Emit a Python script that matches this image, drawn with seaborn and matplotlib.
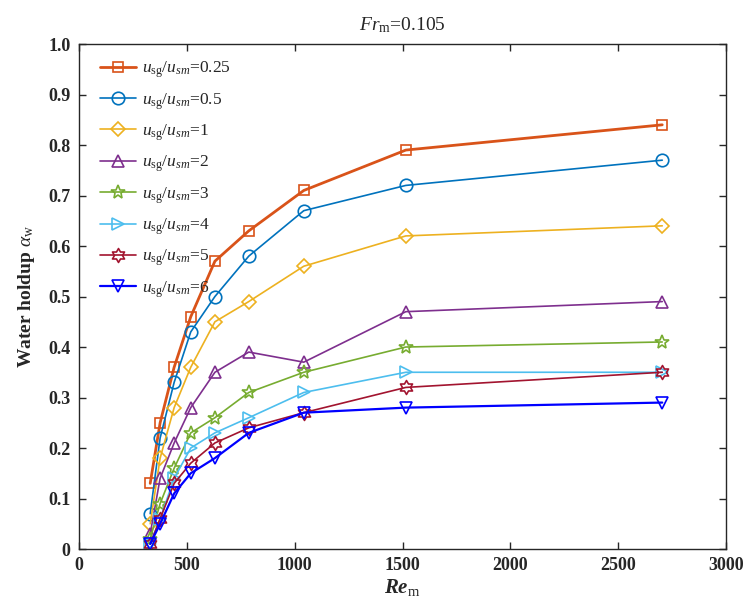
import numpy as np
import pandas as pd
import matplotlib
matplotlib.use("Agg")
import matplotlib.pyplot as plt
from matplotlib.path import Path
import seaborn as sns

re_m = [330, 376, 441, 518, 630, 787, 1042, 1515, 2704]
ratios = ["0.25", "0.5", "1", "2", "3", "4", "5", "6"]
holdup_025 = [0.13, 0.25, 0.36, 0.46, 0.57, 0.63, 0.71, 0.79, 0.84]
holdup_05 = [0.07, 0.22, 0.33, 0.43, 0.50, 0.58, 0.67, 0.72, 0.77]
holdup_1 = [0.05, 0.18, 0.28, 0.36, 0.45, 0.49, 0.56, 0.62, 0.64]
holdup_2 = [0.03, 0.14, 0.21, 0.28, 0.35, 0.39, 0.37, 0.47, 0.49]
holdup_3 = [0.02, 0.09, 0.16, 0.23, 0.26, 0.31, 0.35, 0.40, 0.41]
holdup_4 = [0.01, 0.06, 0.14, 0.20, 0.23, 0.26, 0.31, 0.35, 0.35]
holdup_5 = [0.01, 0.06, 0.13, 0.17, 0.21, 0.24, 0.27, 0.32, 0.35]
holdup_6 = [0.01, 0.05, 0.11, 0.15, 0.18, 0.23, 0.27, 0.28, 0.29]
x_ticks = [0, 500, 1000, 1500, 2000, 2500, 3000]
y_ticks = [0.0, 0.1, 0.2, 0.3, 0.4, 0.5, 0.6, 0.7, 0.8, 0.9, 1.0]

series = [holdup_025, holdup_05, holdup_1, holdup_2, holdup_3, holdup_4, holdup_5, holdup_6]

sns.set_style("ticks")
plt.rcParams["font.family"] = ["Liberation Serif", "DejaVu Serif"]
plt.rcParams["mathtext.fontset"] = "custom"
plt.rcParams["mathtext.rm"] = "Liberation Serif"
plt.rcParams["mathtext.it"] = "Liberation Serif:italic"
plt.rcParams["mathtext.bf"] = "Liberation Serif:bold"
plt.rcParams["mathtext.bfit"] = "Liberation Serif:bold:italic"

# hexagram marker
ang = np.deg2rad(np.arange(12) * 30 + 90)
rad = np.where(np.arange(12) % 2 == 0, 1.0, 0.58)
hexv = np.column_stack([rad * np.cos(ang), rad * np.sin(ang)])
hexv = np.vstack([hexv, hexv[:1]])
hexagram = Path(hexv, [Path.MOVETO] + [Path.LINETO] * 11 + [Path.CLOSEPOLY])

colors = ["#D95319", "#0072BD", "#EDB120", "#7E2F8E", "#77AC30", "#4DBEEE", "#A2142F", "#0000FF"]
markers = ["s", "o", "D", "^", "*", ">", hexagram, "v"]
msizes = [7.5, 9, 7.5, 9, 10, 9, 10, 9]
lws = [2.0, 1.2, 1.2, 1.2, 1.2, 1.2, 1.2, 1.6]

fig = plt.figure(figsize=(7.47, 6.08), dpi=100)
ax = fig.add_axes([0.1058, 0.097, 0.8662, 0.8306])

for r, vals, c, m, ms, lw in zip(ratios, series, colors, markers, msizes, lws):
    df = pd.DataFrame({"Re": re_m, "hold": vals})
    sns.lineplot(data=df, x="Re", y="hold", ax=ax, color=c, marker=m, markersize=ms,
                 markerfacecolor="none", markeredgecolor=c, markeredgewidth=1.2,
                 linewidth=lw, label=r"$u_{\mathrm{sg}}/u_{sm}$=" + r)

ax.set_xlim(0, 3000)
ax.set_ylim(0, 1.0)
ax.set_xticks(x_ticks)
ax.set_yticks(y_ticks)
ax.set_xticklabels([str(v) for v in x_ticks], fontweight="bold", fontsize=13)
ax.set_yticklabels(["0" if v == 0 else f"{v:.1f}" for v in y_ticks], fontweight="bold", fontsize=13)
ax.tick_params(direction="in", top=True, right=True, length=5, width=1, colors="#262626", pad=6)
for s in ax.spines.values():
    s.set_visible(True)
    s.set_color("#262626")
    s.set_linewidth(1.0)

ax.set_xlabel(r"$\mathbfit{Re}_{\rm m}$", fontsize=15, labelpad=2)
ax.set_ylabel(r"Water holdup $\alpha_{\rm w}$", fontsize=14, fontweight="bold", labelpad=8)
ax.set_title(r"$Fr_{\rm m}$=0.105", fontsize=14, pad=10)

leg = ax.legend(loc="upper left", frameon=False, fontsize=12.5, handlelength=2.1,
                handletextpad=0.3, labelspacing=0.62, bbox_to_anchor=(0.008, 1.0),
                borderaxespad=0.5)

fig.savefig("out.png", dpi=100)
